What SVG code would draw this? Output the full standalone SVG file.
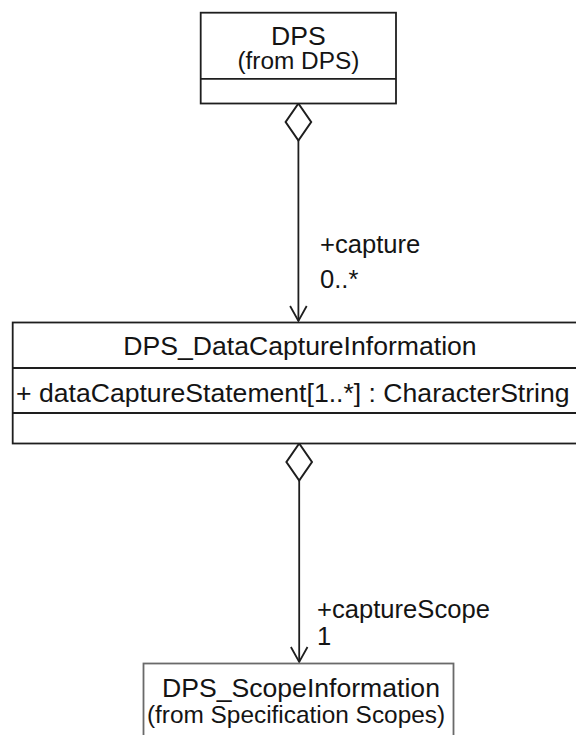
<svg xmlns="http://www.w3.org/2000/svg" width="576" height="735" viewBox="0 0 576 735">
<style>
  .box { fill: #fff; stroke: #1e1e1e; stroke-width: 1.8; }
  .box2 { fill: #fff; stroke: #6a6a6a; stroke-width: 1.8; }
  .div { stroke: #1e1e1e; stroke-width: 1.8; }
  .t { font-family: "Liberation Sans", Arial, sans-serif; fill: #141414; }
  .name { font-size: 26.6px; }
  .sub { font-size: 24.4px; }
  .lbl { font-size: 25.6px; }
  .conn { fill: none; stroke: #1e1e1e; stroke-width: 1.8; }
</style>
<defs>
  <marker id="diamond" markerUnits="userSpaceOnUse" orient="auto" refX="0" refY="0" markerWidth="40" markerHeight="30" viewBox="-1 -13 36 26" overflow="visible">
    <path d="M0,0 L16.7,-11.5 L33.4,0 L16.7,11.5 Z" fill="#fff" stroke="#1e1e1e" stroke-width="1.8"/>
  </marker>
  <marker id="arrow" markerUnits="userSpaceOnUse" orient="auto" refX="0" refY="0" markerWidth="20" markerHeight="20" viewBox="-17 -10 19 20" overflow="visible">
    <path d="M-15,-8.3 L0,0 L-15,8.3" fill="none" stroke="#1e1e1e" stroke-width="1.8"/>
  </marker>
</defs>

<g id="connectors">
  <path class="conn" d="M298.4,103.5 L298.4,321" marker-start="url(#diamond)" marker-end="url(#arrow)"/>
  <path class="conn" d="M299.2,443.5 L299.2,662" marker-start="url(#diamond)" marker-end="url(#arrow)"/>
  <text class="t lbl" x="320" y="253">+capture</text>
  <text class="t lbl" x="320" y="288">0..*</text>
  <text class="t lbl" x="317" y="617.5">+captureScope</text>
  <text class="t lbl" x="317" y="645">1</text>
</g>

<g id="DPS">
  <rect class="box" x="200.7" y="12.7" width="195.3" height="90.8"/>
  <line class="div" x1="200.7" y1="78.8" x2="396" y2="78.8"/>
  <text class="t name" x="298.4" y="44.5" text-anchor="middle">DPS</text>
  <text class="t sub" x="298.4" y="68.5" text-anchor="middle">(from DPS)</text>
</g>

<g id="DPS_DataCaptureInformation">
  <rect class="box" x="12.7" y="322.5" width="600" height="121"/>
  <line class="div" x1="12.7" y1="368" x2="600" y2="368"/>
  <line class="div" x1="12.7" y1="413" x2="600" y2="413"/>
  <text class="t name" x="300" y="355" text-anchor="middle">DPS_DataCaptureInformation</text>
  <text class="t name" x="16" y="401.5">+ dataCaptureStatement[1..*] : CharacterString</text>
</g>

<g id="DPS_ScopeInformation">
  <rect class="box2" x="143.5" y="663.5" width="310" height="110"/>
  <text class="t name" x="301" y="696.5" text-anchor="middle">DPS_ScopeInformation</text>
  <text class="t sub" x="296" y="723" text-anchor="middle">(from Specification Scopes)</text>
</g>
</svg>
